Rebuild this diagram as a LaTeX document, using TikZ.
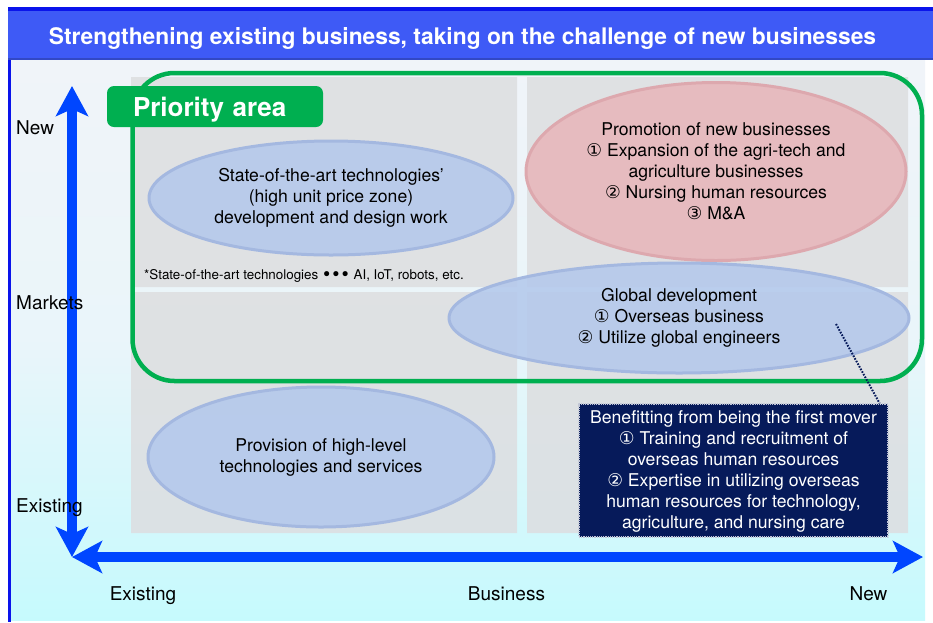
\documentclass[tikz,border=0pt]{standalone}
\usepackage{fontspec}
\setmainfont{TeX Gyre Heros}
\newfontfamily\circfont{DejaVu Sans}
\usetikzlibrary{arrows.meta,shapes.geometric}
\definecolor{titleblue}{RGB}{62,90,246}
\definecolor{edgeblue}{RGB}{10,20,235}
\definecolor{axisblue}{RGB}{0,70,255}
\definecolor{bgtop}{RGB}{240,244,249}
\definecolor{bgbot}{RGB}{198,250,253}
\definecolor{cellgray}{RGB}{221,222,224}
\definecolor{prigreen}{RGB}{0,175,80}
\definecolor{ellblue}{RGB}{180,201,236}
\definecolor{ellblueedge}{RGB}{164,184,224}
\definecolor{ellpink}{RGB}{231,182,187}
\definecolor{ellpinkedge}{RGB}{221,168,174}
\definecolor{boxnavy}{RGB}{6,26,90}
\begin{document}
\begin{tikzpicture}[x=1pt,y=-1pt,font=\fontsize{17.6}{21}\selectfont,line join=round,>={Stealth[length=30pt,width=32pt,inset=7pt]},
	cell/.style={fill=cellgray,fill opacity=0.85},
	blob/.style={ellipse,inner sep=0pt,align=center,fill=ellblue,draw=ellblueedge,line width=3pt,fill opacity=0.88,text opacity=1},
	axis/.style={<->,draw=axisblue,line width=10pt},
	axlabel/.style={inner sep=0pt,font=\fontsize{19}{23}\selectfont}]
			\def\cn#1{{\circfont#1}}
			\useasboundingbox (0,0) rectangle (933,622);
			\fill[white] (0,0) rectangle (933,622);
			\shade[top color=bgtop,bottom color=bgbot,middle color=bgtop!85!bgbot] (11,60) rectangle (925,620);
			\fill[edgeblue] (8,7) rectangle (11,622);
			\fill[titleblue] (8,7) rectangle (933,60);\fill[edgeblue] (8,7) rectangle (933,11);\fill[titleblue!80!black] (8,58) rectangle (933,60);
			\node[anchor=base,text=white,font=\fontsize{22.8}{27}\selectfont\bfseries] (title) at (462.5,44.5) {Strengthening existing business, taking on the challenge of new businesses};
			%cells
			\fill[cell] (131,77) rectangle (517,287) (527,77) rectangle (908,287) (131,292) rectangle (517,533) (527,292) rectangle (908,533);
			\node[blob,minimum width=364pt,minimum height=114pt] (tech) at (331,198) {State-of-the-art technologies’\\(high unit price zone)\\development and design work};
			\node[blob,fill=ellpink,draw=ellpinkedge,minimum width=380pt,minimum height=178pt] (promo) at (716,171.5) {Promotion of new businesses\\\cn{①} Expansion of the agri-tech and\\agriculture businesses\\\cn{②} Nursing human resources\\\cn{③} M\&A};
			\node[blob,minimum width=460pt,minimum height=110pt] (global) at (679,318) {Global development\\\cn{①} Overseas business\\\cn{②} Utilize global engineers};
			\node[blob,minimum width=346pt,minimum height=140pt] (provision) at (321,457) {Provision of high-level\\technologies and services};
			\node[anchor=base west,inner sep=0pt,font=\fontsize{13.4}{16}\selectfont] (note) at (144,279.5) {*State-of-the-art technologies {\circfont\bfseries\fontsize{14.5}{16}\selectfont •••} AI, IoT, robots, etc.};
			\draw[prigreen,line width=4.5pt,rounded corners=42pt] (132.5,73) rectangle (922,381);
			\node[fill=prigreen,rounded corners=7pt,minimum width=216pt,minimum height=41pt,inner sep=0pt,text width=164pt,align=left,text=white,font=\fontsize{26}{30}\selectfont\bfseries,text height=19pt,text depth=0pt] (tag) at (215,106.5) {Priority area};
			\node[fill=boxnavy,draw=white!75!boxnavy,densely dotted,line width=1.2pt,text=white,align=center,minimum width=309pt,minimum height=133pt,inner sep=0pt,text depth=2pt] (benefit) at (733.5,470.5) {Benefitting from being the first mover\\\cn{①} Training and recruitment of\\overseas human resources\\\cn{②} Expertise in utilizing overseas\\human resources for technology,\\agriculture, and nursing care};
			\coordinate (gdot) at (836,324);
			\draw[boxnavy,line width=2pt,dash pattern=on 1.6pt off 1.4pt] (gdot) -- ([xshift=-9pt]benefit.north east);
			%axes
			\coordinate (O) at (72,557);\coordinate (ytop) at (72,86);\coordinate (xend) at (923,557);
			\draw[axis] (O) -- (xend);
			\draw[axis] (ytop) -- (O);
			\node[axlabel,anchor=base west] (ynew) at (16,134) {New};\node[axlabel,anchor=base west] (ymid) at (16,309) {Markets};\node[axlabel,anchor=base west] (yold) at (16,512) {Existing};
			\node[axlabel,anchor=base] (xold) at (143,600) {Existing};\node[axlabel,anchor=base] (xmid) at (506.5,600) {Business};\node[axlabel,anchor=base] (xnew) at (868.5,600) {New};
\end{tikzpicture}
\end{document}
